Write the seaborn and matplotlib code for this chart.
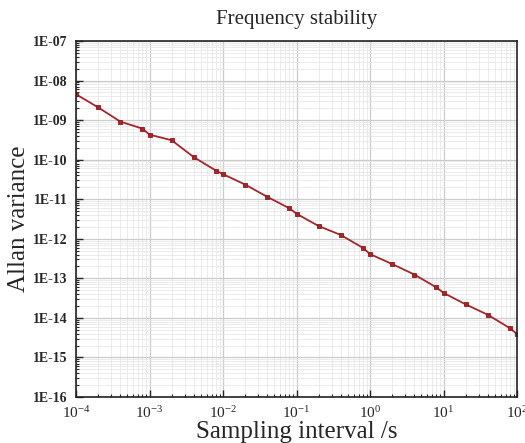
import numpy as np
import pandas as pd
import matplotlib
matplotlib.use("Agg")
import matplotlib.pyplot as plt
import matplotlib.ticker as mticker
import seaborn as sns

tau = [1e-4, 2e-4, 4e-4, 8e-4, 1e-3, 2e-3, 4e-3, 8e-3, 1e-2, 2e-2, 4e-2, 8e-2,
       1e-1, 2e-1, 4e-1, 8e-1, 1, 2, 4, 8, 10, 20, 40, 80, 100]
allan = [4.5e-9, 2.1e-9, 9.2e-10, 6.1e-10, 4.3e-10, 3.1e-10, 1.16e-10, 5.3e-11,
         4.3e-11, 2.35e-11, 1.15e-11, 5.9e-12, 4.3e-12, 2.1e-12, 1.25e-12,
         5.9e-13, 4.1e-13, 2.3e-13, 1.25e-13, 5.9e-14, 4.3e-14, 2.2e-14,
         1.2e-14, 5.5e-15, 3.9e-15]
ytick_vals = [1e-16, 1e-15, 1e-14, 1e-13, 1e-12, 1e-11, 1e-10, 1e-9, 1e-8, 1e-7]
ytick_labels = ["1E-16", "1E-15", "1E-14", "1E-13", "1E-12", "1E-11", "1E-10",
                "1E-09", "1E-08", "1E-07"]

df = pd.DataFrame({"tau": tau, "allan": allan})

sns.set_style("ticks")
plt.rcParams["font.family"] = ["Liberation Serif", "DejaVu Serif"]
plt.rcParams["mathtext.fontset"] = "custom"
plt.rcParams["mathtext.rm"] = "Liberation Serif"
plt.rcParams["mathtext.bf"] = "Liberation Serif:bold"
plt.rcParams["mathtext.default"] = "bf"

fig = plt.figure(figsize=(5.25, 4.43), dpi=100)
ax = fig.add_axes([0.1448, 0.1038, 0.84, 0.8036])

sns.lineplot(data=df, x="tau", y="allan", ax=ax, color="#a3262a", marker="s",
             markersize=3.3, markeredgecolor="#8b1a1c", markeredgewidth=0.6,
             linewidth=1.3)

ax.set_xscale("log")
ax.set_yscale("log")
ax.set_xlim(1e-4, 1e2)
ax.set_ylim(1e-16, 1e-7)

ax.set_yticks(ytick_vals)
ax.set_yticklabels(ytick_labels, fontweight="bold", fontsize=10)
ax.yaxis.set_minor_locator(mticker.LogLocator(base=10, subs=np.arange(2, 10), numticks=100))
ax.yaxis.set_minor_formatter(mticker.NullFormatter())
ax.xaxis.set_major_locator(mticker.LogLocator(base=10, numticks=20))
ax.xaxis.set_minor_locator(mticker.LogLocator(base=10, subs=np.arange(2, 10), numticks=100))
ax.xaxis.set_minor_formatter(mticker.NullFormatter())

ax.tick_params(axis="both", which="major", direction="in", length=5, width=1.0,
               pad=6, top=False, right=False)
ax.tick_params(axis="x", which="major", labelsize=11)
ax.tick_params(axis="y", which="major", labelsize=10)
ax.tick_params(axis="both", which="minor", direction="in", length=2.5, width=0.8,
               top=False, right=False)

ax.grid(True, which="major", color="#cccccc", linewidth=0.9)
ax.grid(True, which="minor", color="#e4e4e4", linewidth=0.5)
ax.set_axisbelow(True)

for s in ax.spines.values():
    s.set_linewidth(1.2)
    s.set_color("#222222")

ax.set_title("Frequency stability", fontsize=15, pad=12)
ax.set_xlabel("Sampling interval /s", fontsize=18, labelpad=0)
ax.set_ylabel("Allan variance", fontsize=18, labelpad=2)

fig.savefig("out.png", dpi=100)
